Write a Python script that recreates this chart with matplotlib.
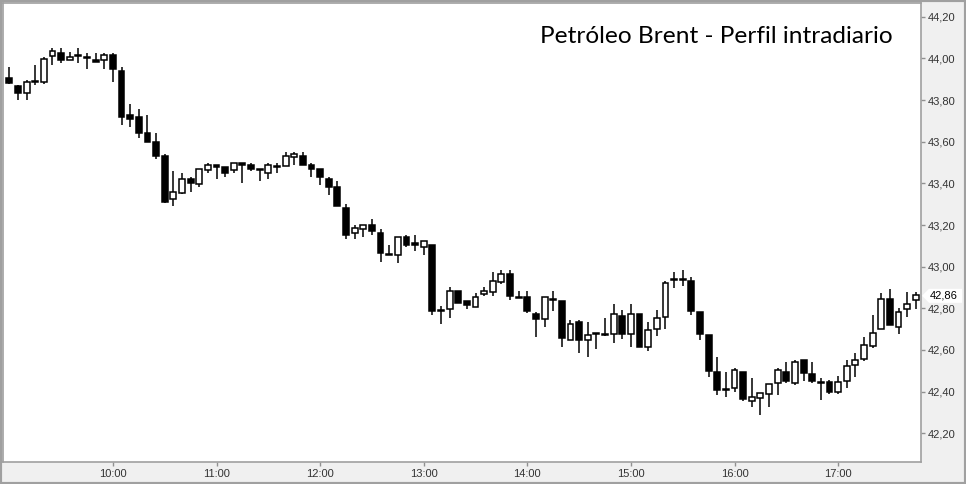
import matplotlib
matplotlib.use("Agg")
import matplotlib.pyplot as plt
from matplotlib.patches import Polygon, Rectangle
import numpy as np
import pandas as pd

# ---- data (5-minute candles, 09:00 .. 17:45) ----
opens = [43.905, 43.867, 43.832, 43.890, 43.888, 44.010, 44.024, 43.990, 44.017, 44.005,
         43.990, 43.990, 44.016, 43.940, 43.727, 43.717, 43.640, 43.598, 43.533, 43.323,
         43.352, 43.420, 43.395, 43.462, 43.487, 43.478, 43.462, 43.496, 43.490, 43.467,
         43.450, 43.483, 43.483, 43.525, 43.533, 43.490, 43.467, 43.420, 43.383, 43.282,
         43.163, 43.182, 43.200, 43.160, 43.060, 43.055, 43.140, 43.112, 43.093, 43.103,
         42.793, 42.795, 42.882, 42.834, 42.805, 42.867, 42.877, 42.925, 42.963, 42.853,
         42.853, 42.771, 42.747, 42.844, 42.834, 42.647, 42.733, 42.647, 42.680, 42.675,
         42.675, 42.762, 42.675, 42.771, 42.616, 42.699, 42.757, 42.940, 42.940, 42.930,
         42.781, 42.670, 42.493, 42.414, 42.416, 42.493, 42.357, 42.368, 42.387, 42.440,
         42.493, 42.440, 42.550, 42.483, 42.445, 42.445, 42.397, 42.450, 42.527, 42.555,
         42.618, 42.700, 42.844, 42.709, 42.795, 42.839]
highs = [43.960, 43.870, 43.896, 43.970, 44.005, 44.048, 44.048, 44.033, 44.048, 44.024,
         44.024, 44.024, 44.024, 43.960, 43.780, 43.755, 43.727, 43.640, 43.540, 43.460,
         43.450, 43.432, 43.467, 43.497, 43.490, 43.478, 43.500, 43.500, 43.500, 43.467,
         43.497, 43.497, 43.550, 43.550, 43.550, 43.497, 43.467, 43.432, 43.410, 43.300,
         43.200, 43.200, 43.227, 43.180, 43.103, 43.140, 43.150, 43.150, 43.122, 43.103,
         42.810, 42.900, 42.882, 42.834, 42.872, 42.900, 42.973, 42.983, 42.983, 42.882,
         42.882, 42.781, 42.853, 42.882, 42.834, 42.743, 42.743, 42.733, 42.680, 42.752,
         42.820, 42.790, 42.820, 42.771, 42.733, 42.790, 42.930, 42.973, 42.983, 42.949,
         42.781, 42.670, 42.565, 42.493, 42.512, 42.493, 42.467, 42.392, 42.435, 42.512,
         42.541, 42.550, 42.550, 42.541, 42.464, 42.455, 42.474, 42.550, 42.584, 42.661,
         42.770, 42.872, 42.891, 42.800, 42.880, 42.880]
lows = [43.875, 43.800, 43.800, 43.870, 43.878, 43.970, 43.980, 43.990, 43.980, 43.950,
        43.982, 43.950, 43.888, 43.680, 43.672, 43.620, 43.600, 43.515, 43.304, 43.290,
        43.350, 43.360, 43.384, 43.450, 43.420, 43.432, 43.450, 43.403, 43.460, 43.413,
        43.420, 43.450, 43.483, 43.490, 43.490, 43.432, 43.390, 43.343, 43.293, 43.134,
        43.134, 43.144, 43.153, 43.024, 43.055, 43.016, 43.093, 43.074, 43.055, 42.767,
        42.726, 42.755, 42.824, 42.795, 42.805, 42.857, 42.857, 42.915, 42.839, 42.849,
        42.776, 42.664, 42.709, 42.786, 42.616, 42.647, 42.587, 42.568, 42.606, 42.666,
        42.635, 42.654, 42.616, 42.616, 42.597, 42.666, 42.700, 42.896, 42.906, 42.767,
        42.647, 42.469, 42.385, 42.376, 42.397, 42.357, 42.328, 42.290, 42.328, 42.385,
        42.440, 42.430, 42.450, 42.440, 42.360, 42.387, 42.390, 42.416, 42.469, 42.546,
        42.608, 42.700, 42.719, 42.675, 42.757, 42.795]
closes = [43.880, 43.832, 43.885, 43.885, 43.995, 44.034, 43.990, 44.005, 44.012, 44.000,
          43.985, 44.016, 43.950, 43.720, 43.710, 43.643, 43.600, 43.533, 43.312, 43.358,
          43.420, 43.403, 43.467, 43.486, 43.480, 43.450, 43.496, 43.490, 43.470, 43.463,
          43.490, 43.480, 43.531, 43.541, 43.490, 43.470, 43.432, 43.384, 43.293, 43.153,
          43.187, 43.200, 43.173, 43.064, 43.055, 43.140, 43.105, 43.105, 43.122, 42.786,
          42.789, 42.882, 42.824, 42.815, 42.853, 42.882, 42.930, 42.963, 42.858, 42.849,
          42.786, 42.747, 42.853, 42.839, 42.656, 42.723, 42.647, 42.671, 42.675, 42.671,
          42.771, 42.675, 42.771, 42.616, 42.695, 42.752, 42.920, 42.935, 42.935, 42.786,
          42.675, 42.498, 42.407, 42.407, 42.503, 42.366, 42.376, 42.392, 42.435, 42.503,
          42.450, 42.541, 42.488, 42.450, 42.440, 42.397, 42.445, 42.522, 42.550, 42.622,
          42.680, 42.844, 42.719, 42.781, 42.820, 42.862]

x_tick_labels = ["10:00", "11:00", "12:00", "13:00", "14:00", "15:00", "16:00", "17:00"]
y_tick_values = [42.2, 42.4, 42.6, 42.8, 43.0, 43.2, 43.4, 43.6, 43.8, 44.0, 44.2]
title = "Petróleo Brent - Perfil intradiario"
last_price_label = "42,86"

# ---- figure ----
W, H = 966, 484
fig = plt.figure(figsize=(W / 100, H / 100), dpi=100)
fig.patch.set_facecolor("#f0f0f0")
fig.patches.append(Rectangle((0, 0), 1, 1, transform=fig.transFigure, fill=False,
                             edgecolor="#a0a0a0", linewidth=3))

ax_l, ax_r, ax_t, ax_b = 3, 921, 3, 462
ax = fig.add_axes([ax_l / W, 1 - ax_b / H, (ax_r - ax_l) / W, (ax_b - ax_t) / H])
ax.set_facecolor("white")

o = np.array(opens); h = np.array(highs); l = np.array(lows); c = np.array(closes)
n = len(o)
xs = np.arange(n)
times = pd.date_range("2016-01-01 09:00", periods=n, freq="5min").strftime("%H:%M")

ax.vlines(xs, l, h, color="black", linewidth=1.1, zorder=2)
bottoms = np.minimum(o, c)
heights = np.maximum(np.abs(c - o), 0.003)
face = ["black" if cc < oo else "white" for oo, cc in zip(o, c)]
ax.bar(xs, heights, bottom=bottoms, width=0.68, color=face, edgecolor="black",
       linewidth=1.1, zorder=3)

ax.set_xlim(-0.73, 105.6)
ax.set_ylim(42.062, 44.266)

tick_pos = [list(times).index(t) for t in x_tick_labels]
ax.set_xticks(tick_pos)
ax.set_xticklabels(x_tick_labels)
ax.yaxis.tick_right()
ax.set_yticks(y_tick_values)
ax.set_yticklabels([f"{v:.2f}".replace(".", ",") for v in y_tick_values])
ax.tick_params(axis="both", labelsize=8, colors="#909090", labelcolor="#333333",
               length=3, width=1, pad=2)
for lab in ax.get_xticklabels() + ax.get_yticklabels():
    lab.set_fontfamily("Liberation Sans")
for sp in ax.spines.values():
    sp.set_color("#a0a0a0")
    sp.set_linewidth(1.2)

ax.text(0.9695, 0.926, title, transform=ax.transAxes, ha="right", va="center",
        fontsize=17.6, family="Lato", color="black")

# last price marker on right axis
fig.canvas.draw()
yp = ax.transData.transform((0, 42.86))[1]
x0 = ax_r + 1
poly = Polygon([(x0, yp), (x0 + 7, yp + 7), (x0 + 40, yp + 7), (x0 + 40, yp - 7),
                (x0 + 7, yp - 7)], closed=True, transform=None, facecolor="white",
               edgecolor="none", zorder=5)
fig.patches.append(poly)
fig.text((x0 + 8) / W, yp / H, last_price_label, ha="left", va="center",
         fontsize=8, family="Liberation Sans", color="black", zorder=6)

fig.savefig("out.png", dpi=100, facecolor=fig.get_facecolor())
